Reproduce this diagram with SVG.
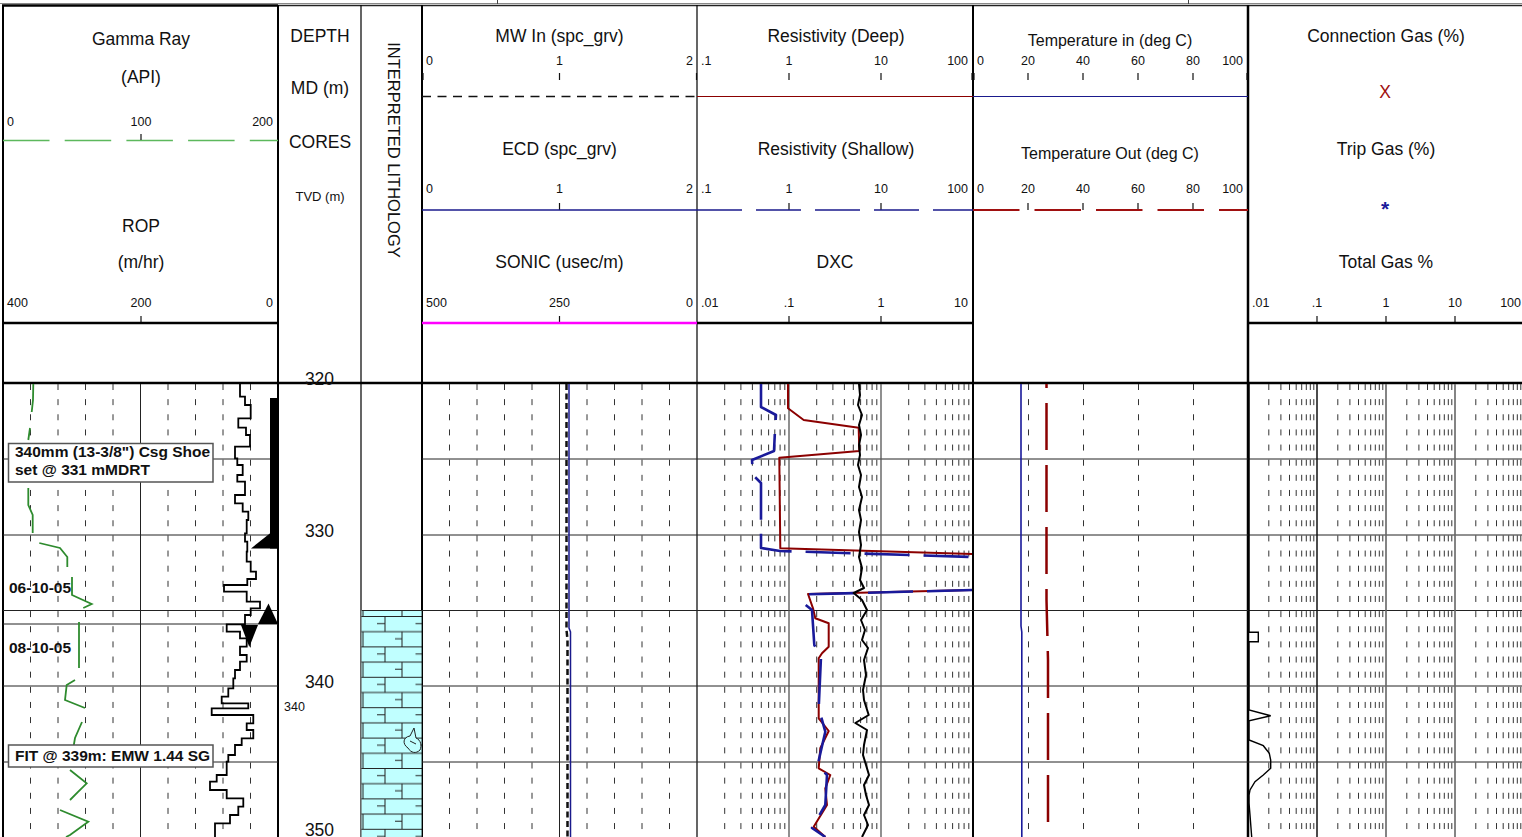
<svg xmlns="http://www.w3.org/2000/svg" width="1522" height="837" viewBox="0 0 1522 837">
<style>
text{font-family:"Liberation Sans",Arial,sans-serif;fill:#111}
.t{font-size:17.5px;text-anchor:middle}
.tt{font-size:16px;text-anchor:middle}
.s{font-size:12.5px}
.m{text-anchor:middle}
.e{text-anchor:end}
.b{font-weight:bold;font-size:15.5px}
.gs{fill:none;stroke:#222;stroke-width:1}
.gd{fill:none;stroke:#333;stroke-width:1;stroke-dasharray:6 9.14}
.tk{fill:none;stroke:#111;stroke-width:1.2}
.bd{fill:none;stroke:#111}
</style>
<defs>
<pattern id="lime" patternUnits="userSpaceOnUse" x="361" y="616" width="61" height="30.4">
<rect width="61" height="30.4" fill="#C0FFFF"/>
<path d="M0,0.5H61M0,15.7H61M24,0V15.2M16,7.6H24M54.5,7.6H61M2,15.2V30.4M41,15.2V30.4M34,22.8H41" fill="none" stroke="#222" stroke-width="1"/>
</pattern>
</defs>

<g id="frame">
<path d="M0,3.5H1522" stroke="#888" stroke-width="1"/>
<path d="M497.5,0V4M1188.5,0V4" stroke="#444" stroke-width="1"/>
<path d="M2,5.5H278" stroke="#000" stroke-width="2.5"/>
<path d="M278,5.5H1522" stroke="#222" stroke-width="1.5"/>
<path d="M3,5V837M278,5V837M422,5V837M973,5V837" stroke="#000" stroke-width="2"/>
<path d="M361,5V837M697,5V837" stroke="#000" stroke-width="1.2"/>
<path d="M1248,5V837" stroke="#000" stroke-width="2.5"/>
<path d="M3,383H1522" stroke="#000" stroke-width="2.5"/>
</g>

<g id="track-gamma-rop">
<text class="t" x="141" y="45">Gamma Ray</text>
<text class="t" x="141" y="83">(API)</text>
<text class="s" x="7" y="126">0</text>
<text class="s m" x="141" y="126">100</text>
<text class="s e" x="273" y="126">200</text>
<path d="M3,140.5H278" stroke="#5cb85c" stroke-width="1.5" stroke-dasharray="46.5 15.2"/>
<path class="tk" d="M141,134V140"/>
<text class="t" x="141" y="232">ROP</text>
<text class="t" x="141" y="268">(m/hr)</text>
<text class="s" x="7" y="307">400</text>
<text class="s m" x="141" y="307">200</text>
<text class="s e" x="273" y="307">0</text>
<path class="tk" d="M141,316V323"/>
<path d="M3,323H278" stroke="#000" stroke-width="2.5"/>
<path class="gd" d="M30.5,384V837M58,384V837M85.5,384V837M113,384V837M168,384V837M195.5,384V837M223,384V837M250.5,384V837"/>
<path class="gs" d="M140.5,384V837M3,459H278M3,535H278M3,610.5H278M3,624H278M3,686H278M3,762H278"/>
<g fill="none" stroke="#2e8b2e" stroke-width="1.8">
<polyline points="33.3,384 33,400 31.7,412"/>
<polyline points="30,428 28.3,440"/>
<polyline points="28.3,488 28.3,505 32.7,515 32.7,533"/>
<polyline points="39.3,543 60,548 67.3,557 67.3,567"/>
<polyline points="72,577 72,595 91.7,604 83.3,608"/>
<polyline points="79,622 79,668"/>
<polyline points="75,680 66.7,685 65,700 85,708"/>
<polyline points="82,722 75,738 73.3,748"/>
<polyline points="70,770 86.7,783.3 78.3,791.7 70,800"/>
<polyline points="60,810 88.3,821.7 70,835 66,837"/>
</g>
<path fill="none" stroke="#000" stroke-width="1.8" d="M240,384V396.7H245V405H250.7V418.3H238.3V427.7H246V435H250V446.7H235V458.3H237.3V465H242.7V475H237.3V481.7H245V495H235V503.3H242.7V511.7H248.3V520H246.7V533.3H245V541.7H247.3V551.7H246.7V561.7H250.7V571.7H256V579H247.3V585H224V591.7H246.7V601.7H260V608.3H250.7V615H245V624.3H226.7V631.7H240V638.3H246.7V646.7H240V655H246.7V661.7H240V670H235V678.3H233.3V688.3H228.3V696.7H221.7V703.3H248.3V708.3H211.7V715H253.3V723.3H246.7V730H253.3V738.3H241.7V745H235V755H228.3V761.7H226.7V775H216.7V781.7H210V790H226.7V798.3H243.3V806.7H238.3V815H230V823.3H215V837"/>
<rect x="270" y="398" width="8" height="150.5" fill="#000"/>
<polygon points="251,548.5 278,527 278,548.5" fill="#000"/>
<polygon points="258,624 278,624 268.5,603.5" fill="#000"/>
<polygon points="241,625 258,625 249.3,647" fill="#000"/>
<text class="b" x="9" y="593">06-10-05</text>
<text class="b" x="9" y="653">08-10-05</text>
<rect x="8.5" y="443.5" width="204.5" height="38.5" fill="#fff" stroke="#555" stroke-width="1.5"/>
<text class="b" x="15" y="457">340mm (13-3/8") Csg Shoe</text>
<text class="b" x="15" y="474.5">set @ 331 mMDRT</text>
<rect x="8.5" y="745" width="204.5" height="22" fill="#fff" stroke="#555" stroke-width="1.5"/>
<text class="b" x="15" y="760.5">FIT @ 339m: EMW 1.44 SG</text>
</g>

<g id="track-depth">
<text class="t" x="320" y="42">DEPTH</text>
<text class="t" x="320" y="94">MD (m)</text>
<text class="t" x="320" y="148">CORES</text>
<text class="m" x="320" y="201" style="font-size:13px">TVD (m)</text>
<text class="t" x="319.5" y="385">320</text>
<text class="t" x="319.5" y="537">330</text>
<text class="t" x="319.5" y="688">340</text>
<text class="t" x="319.5" y="836">350</text>
<text class="s" x="284" y="711">340</text>
</g>

<g id="track-lithology">
<text transform="translate(388,150) rotate(90)" style="font-size:16.5px;text-anchor:middle">INTERPRETED LITHOLOGY</text>
<rect x="361.6" y="610" width="60" height="227" fill="url(#lime)"/>
<path d="M361.6,610.5H422" stroke="#222" stroke-width="1"/>
<path d="M408,748C402,744 403,737 410,736L414,728L416,738C421,740 422,746 420,750C416,754 411,753 408,748ZM410,741L416,744" fill="#C0FFFF" stroke="#222" stroke-width="1"/>
</g>

<g id="track-mw-ecd-sonic">
<text class="t" x="559.5" y="42">MW In (spc_grv)</text>
<text class="s" x="426" y="65">0</text>
<text class="s m" x="559.5" y="65">1</text>
<text class="s e" x="693" y="65">2</text>
<path class="tk" d="M559.5,73V80M423,73V80M696.5,73V80"/>
<path d="M422,96.5H697" stroke="#111" stroke-width="1.5" stroke-dasharray="9 6.5"/>
<text class="t" x="559.5" y="154.5">ECD (spc_grv)</text>
<text class="s" x="426" y="193">0</text>
<text class="s m" x="559.5" y="193">1</text>
<text class="s e" x="693" y="193">2</text>
<path class="tk" d="M559.5,203V210"/>
<path d="M422,210H697" stroke="#1a1a8c" stroke-width="1.5"/>
<text class="t" x="559.5" y="267.5">SONIC (usec/m)</text>
<text class="s" x="426" y="307">500</text>
<text class="s m" x="559.5" y="307">250</text>
<text class="s e" x="693" y="307">0</text>
<path class="tk" d="M559.5,316V323"/>
<path d="M422,323H697" stroke="#ff00ff" stroke-width="2.5"/>
<path class="gd" d="M449.5,384V837M477,384V837M504.5,384V837M532,384V837M587,384V837M614.5,384V837M642,384V837M669.5,384V837"/>
<path class="gs" d="M559.5,384V837M422,459H1522M422,535H1522M422,610.5H1522M422,686H1522M422,762H1522"/>
<path d="M566.5,384V630L567.5,640V837" fill="none" stroke="#111" stroke-width="2.5" stroke-dasharray="6 3.5"/>
<path d="M569,384V628L570.5,632V837" fill="none" stroke="#1a1a8c" stroke-width="1.5"/>
</g>

<g id="track-resistivity-dxc">
<text class="t" x="836" y="42">Resistivity (Deep)</text>
<text class="s" x="701" y="65">.1</text>
<text class="s m" x="789" y="65">1</text>
<text class="s m" x="881" y="65">10</text>
<text class="s e" x="968" y="65">100</text>
<path class="tk" d="M789,73V80M881,73V80M972,73V80"/>
<path d="M697,96.5H973" stroke="#8b0000" stroke-width="1.2"/>
<text class="t" x="836" y="154.5">Resistivity (Shallow)</text>
<text class="s" x="701" y="193">.1</text>
<text class="s m" x="789" y="193">1</text>
<text class="s m" x="881" y="193">10</text>
<text class="s e" x="968" y="193">100</text>
<path class="tk" d="M789,203V210M881,203V210"/>
<path d="M697,210H973" stroke="#1a1a8c" stroke-width="1.5" stroke-dasharray="45 14"/>
<text class="t" x="835" y="267.5">DXC</text>
<text class="s" x="701" y="307">.01</text>
<text class="s m" x="789" y="307">.1</text>
<text class="s m" x="881" y="307">1</text>
<text class="s e" x="968" y="307">10</text>
<path class="tk" d="M789,316V323M881,316V323"/>
<path d="M697,323H973" stroke="#000" stroke-width="2.5"/>
<path class="gd" d="M724.7,384V837M740.9,384V837M752.4,384V837M761.3,384V837M768.6,384V837M774.8,384V837M780.1,384V837M784.8,384V837M816.7,384V837M832.9,384V837M844.4,384V837M853.3,384V837M860.6,384V837M866.8,384V837M872.1,384V837M876.8,384V837M908.7,384V837M924.9,384V837M936.4,384V837M945.3,384V837M952.6,384V837M958.8,384V837M964.1,384V837M968.8,384V837"/>
<path d="M789,384V837M881,384V837" fill="none" stroke="#555" stroke-width="1.3"/>
<g fill="none" stroke-linejoin="round">
<polyline stroke="#8b0000" stroke-width="2" points="788,384 788,408.3 803.7,420 858.7,427.7 859.3,451 779.3,457.7 780.3,548.3 972,554"/>
<polyline stroke="#8b0000" stroke-width="2" points="972,590 808,594 813,608.3 815.3,618.3 828.7,623.3 828.7,646.7 822,653.3 818.7,658.3 818.7,718.3 828.7,731 820.3,748.3 818.7,768.3 830.3,775 825.3,788.3 827,805 813.7,826.7 825.3,837"/>
<polyline stroke="#1a1a9a" stroke-width="2.6" stroke-dasharray="45 14" points="761,384 761,407 776,415 775,430 774,451 752,460 753,475 761,483 761,548 780,551 972,557"/>
<polyline stroke="#1a1a9a" stroke-width="2.6" stroke-dasharray="45 14" points="972,590 808.7,594.3 803,602.7 812,610 814.3,645 821,656.7 818.7,708 825.3,731.7 817.7,765 827,775 825.3,805 812,828 825.3,837"/>
<polyline stroke="#000" stroke-width="2" points="859,384 860,395 858,405 862,415 859,425 861,435 859,445 860,455 858,465 861,475 859,487 862,497 859,510 861,520 859,532 861,545 859,557 862,568 860,580 864,588 853.7,593 862,600 867,610 861,620 865,630 862,640 868,648 864,660 866,675 863,690 864,700 868.7,715 855.3,723 867,730 864,745 863,755 866,765 869,775 864,785 866,795 869,805 864,815 868,825 862,837"/>
</g>
</g>

<g id="track-temperature">
<text class="tt" x="1110" y="45.5">Temperature in (deg C)</text>
<text class="s" x="977" y="65">0</text>
<text class="s m" x="1028" y="65">20</text>
<text class="s m" x="1083" y="65">40</text>
<text class="s m" x="1138" y="65">60</text>
<text class="s m" x="1193" y="65">80</text>
<text class="s e" x="1243" y="65">100</text>
<path class="tk" d="M1028,73V80M1083,73V80M1138,73V80M1193,73V80M974,73V80M1247,73V80"/>
<path d="M973,96.5H1248" stroke="#1a1a8c" stroke-width="1.2"/>
<text class="tt" x="1110" y="159">Temperature Out (deg C)</text>
<text class="s" x="977" y="193">0</text>
<text class="s m" x="1028" y="193">20</text>
<text class="s m" x="1083" y="193">40</text>
<text class="s m" x="1138" y="193">60</text>
<text class="s m" x="1193" y="193">80</text>
<text class="s e" x="1243" y="193">100</text>
<path class="tk" d="M1028,203V210M1083,203V210M1138,203V210M1193,203V210"/>
<path d="M973,210H1248" stroke="#a01010" stroke-width="2" stroke-dasharray="46.5 15"/>
<path class="gd" d="M1028.5,384V837M1083.5,384V837M1138.5,384V837M1193.5,384V837"/>
<path d="M1021,384V626L1021.8,632V837" fill="none" stroke="#1a1a9a" stroke-width="1.6"/>
<path d="M1046.5,384V600L1048,660V837" fill="none" stroke="#8b0000" stroke-width="2.5" stroke-dasharray="47 15" stroke-dashoffset="43"/>
</g>

<g id="track-gas">
<text class="t" x="1386" y="41.5">Connection Gas (%)</text>
<text class="t" x="1385" y="98" style="fill:#a01010">X</text>
<text class="t" x="1386" y="154.5">Trip Gas (%)</text>
<text x="1385" y="216" style="fill:#1a1a9a;font-weight:bold;font-size:21px;text-anchor:middle">*</text>
<text class="t" x="1386" y="267.5">Total Gas %</text>
<text class="s" x="1252" y="307">.01</text>
<text class="s m" x="1317" y="307">.1</text>
<text class="s m" x="1386" y="307">1</text>
<text class="s m" x="1455" y="307">10</text>
<text class="s e" x="1521" y="307">100</text>
<path class="tk" d="M1317,316V323M1386,316V323M1455,316V323"/>
<path d="M1248,323H1522" stroke="#000" stroke-width="2.5"/>
<path class="gd" d="M1268.8,384V837M1280.9,384V837M1289.5,384V837M1296.2,384V837M1301.7,384V837M1306.3,384V837M1310.3,384V837M1313.8,384V837M1337.8,384V837M1349.9,384V837M1358.5,384V837M1365.2,384V837M1370.7,384V837M1375.3,384V837M1379.3,384V837M1382.8,384V837M1406.8,384V837M1418.9,384V837M1427.5,384V837M1434.2,384V837M1439.7,384V837M1444.3,384V837M1448.3,384V837M1451.8,384V837M1475.8,384V837M1487.9,384V837M1496.5,384V837M1503.2,384V837M1508.7,384V837M1513.3,384V837M1517.3,384V837M1520.8,384V837"/>
<path d="M1317,384V837" fill="none" stroke="#111" stroke-width="1.5"/>
<path d="M1386,384V837M1455,384V837" fill="none" stroke="#666" stroke-width="1.6"/>
<path d="M1249,384V632.3H1258.3V641.7H1249V710L1270.7,715.7L1249,720.7V740L1263.3,745.7L1269.3,753.3L1270.7,760V768.3L1263.3,775L1255,781.7L1250,790L1249,795V803L1250,815L1251.7,837" fill="none" stroke="#000" stroke-width="1.4"/>
</g>

<g id="connectors"></g>
</svg>
